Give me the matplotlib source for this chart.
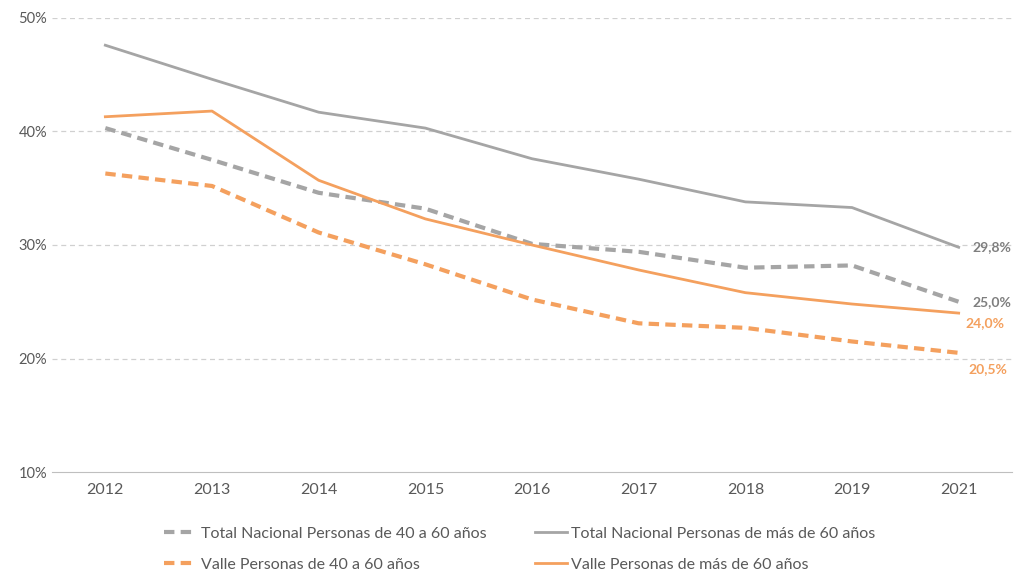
import matplotlib
matplotlib.use("Agg")
import matplotlib.pyplot as plt

plt.rcParams['font.family'] = ['Lato', 'DejaVu Sans']

years = ["2012", "2013", "2014", "2015", "2016", "2017", "2018", "2019", "2021"]
nac_40_60 = [40.3, 37.5, 34.6, 33.2, 30.1, 29.4, 28.0, 28.2, 25.0]
nac_60 = [47.6, 44.6, 41.7, 40.3, 37.6, 35.8, 33.8, 33.3, 29.8]
valle_40_60 = [36.3, 35.2, 31.1, 28.3, 25.2, 23.1, 22.7, 21.5, 20.5]
valle_60 = [41.3, 41.8, 35.7, 32.3, 30.0, 27.8, 25.8, 24.8, 24.0]

gray = '#a5a5a5'
orange = '#f4a05e'
gray_txt = '#7f7f7f'
orange_txt = '#f4a05e'

fig = plt.figure(figsize=(10.14, 5.73), dpi=100)
ax = fig.add_axes([52/1014, 101/573, 960/1014, 454/573])
x = list(range(len(years)))

l1, = ax.plot(x, nac_40_60, color=gray, lw=3, ls=(0, (2.5, 1.5)),
              label="Total Nacional Personas de 40 a 60 años")
l2, = ax.plot(x, nac_60, color=gray, lw=2, label="Total Nacional Personas de más de 60 años")
l3, = ax.plot(x, valle_40_60, color=orange, lw=3, ls=(0, (2.5, 1.5)),
              label="Valle Personas de 40 a 60 años")
l4, = ax.plot(x, valle_60, color=orange, lw=2, label="Valle Personas de más de 60 años")

# end labels
lab_kw = dict(fontsize=10, fontweight='bold', va='center', ha='left')
ax.annotate("{:.1f}%".format(nac_60[-1]).replace('.', ','), (x[-1], nac_60[-1]),
            xytext=(10, 0), textcoords='offset points', color=gray_txt, **lab_kw)
ax.annotate("{:.1f}%".format(nac_40_60[-1]).replace('.', ','), (x[-1], nac_40_60[-1]),
            xytext=(10, 0), textcoords='offset points', color=gray_txt, **lab_kw)
ax.annotate("{:.1f}%".format(valle_60[-1]).replace('.', ','), (x[-1], valle_60[-1]),
            xytext=(5, -7), textcoords='offset points', color=orange_txt, **lab_kw)
ax.annotate("{:.1f}%".format(valle_40_60[-1]).replace('.', ','), (x[-1], valle_40_60[-1]),
            xytext=(7, -12), textcoords='offset points', color=orange_txt, **lab_kw)

ax.set_xlim(-0.5, len(years) - 0.5)
ax.set_ylim(10, 50)
ax.set_yticks([10, 20, 30, 40, 50])
ax.set_yticklabels(["10%", "20%", "30%", "40%", "50%"])
ax.set_xticks(x)
ax.set_xticklabels(years)
ax.tick_params(axis='both', length=0, labelsize=10.5, colors='#595959')
ax.tick_params(axis='x', labelsize=11.5, pad=8)
for yv in [20, 30, 40, 50]:
    ax.axhline(yv, color='#d0d0d0', lw=0.9, ls=(0, (4, 3)), zorder=0)
for s in ['top', 'right', 'left']:
    ax.spines[s].set_visible(False)
ax.spines['bottom'].set_color('#bfbfbf')
ax.set_facecolor('white')

fig.legend(handles=[l1, l3, l2, l4], ncol=2, loc='lower left',
           bbox_to_anchor=(150/1014, -0.023), frameon=False, fontsize=11.5,
           handlelength=2.0, handletextpad=0.3, columnspacing=3.0,
           labelspacing=1.05, labelcolor='#595959')

fig.savefig('out.png', dpi=100)
